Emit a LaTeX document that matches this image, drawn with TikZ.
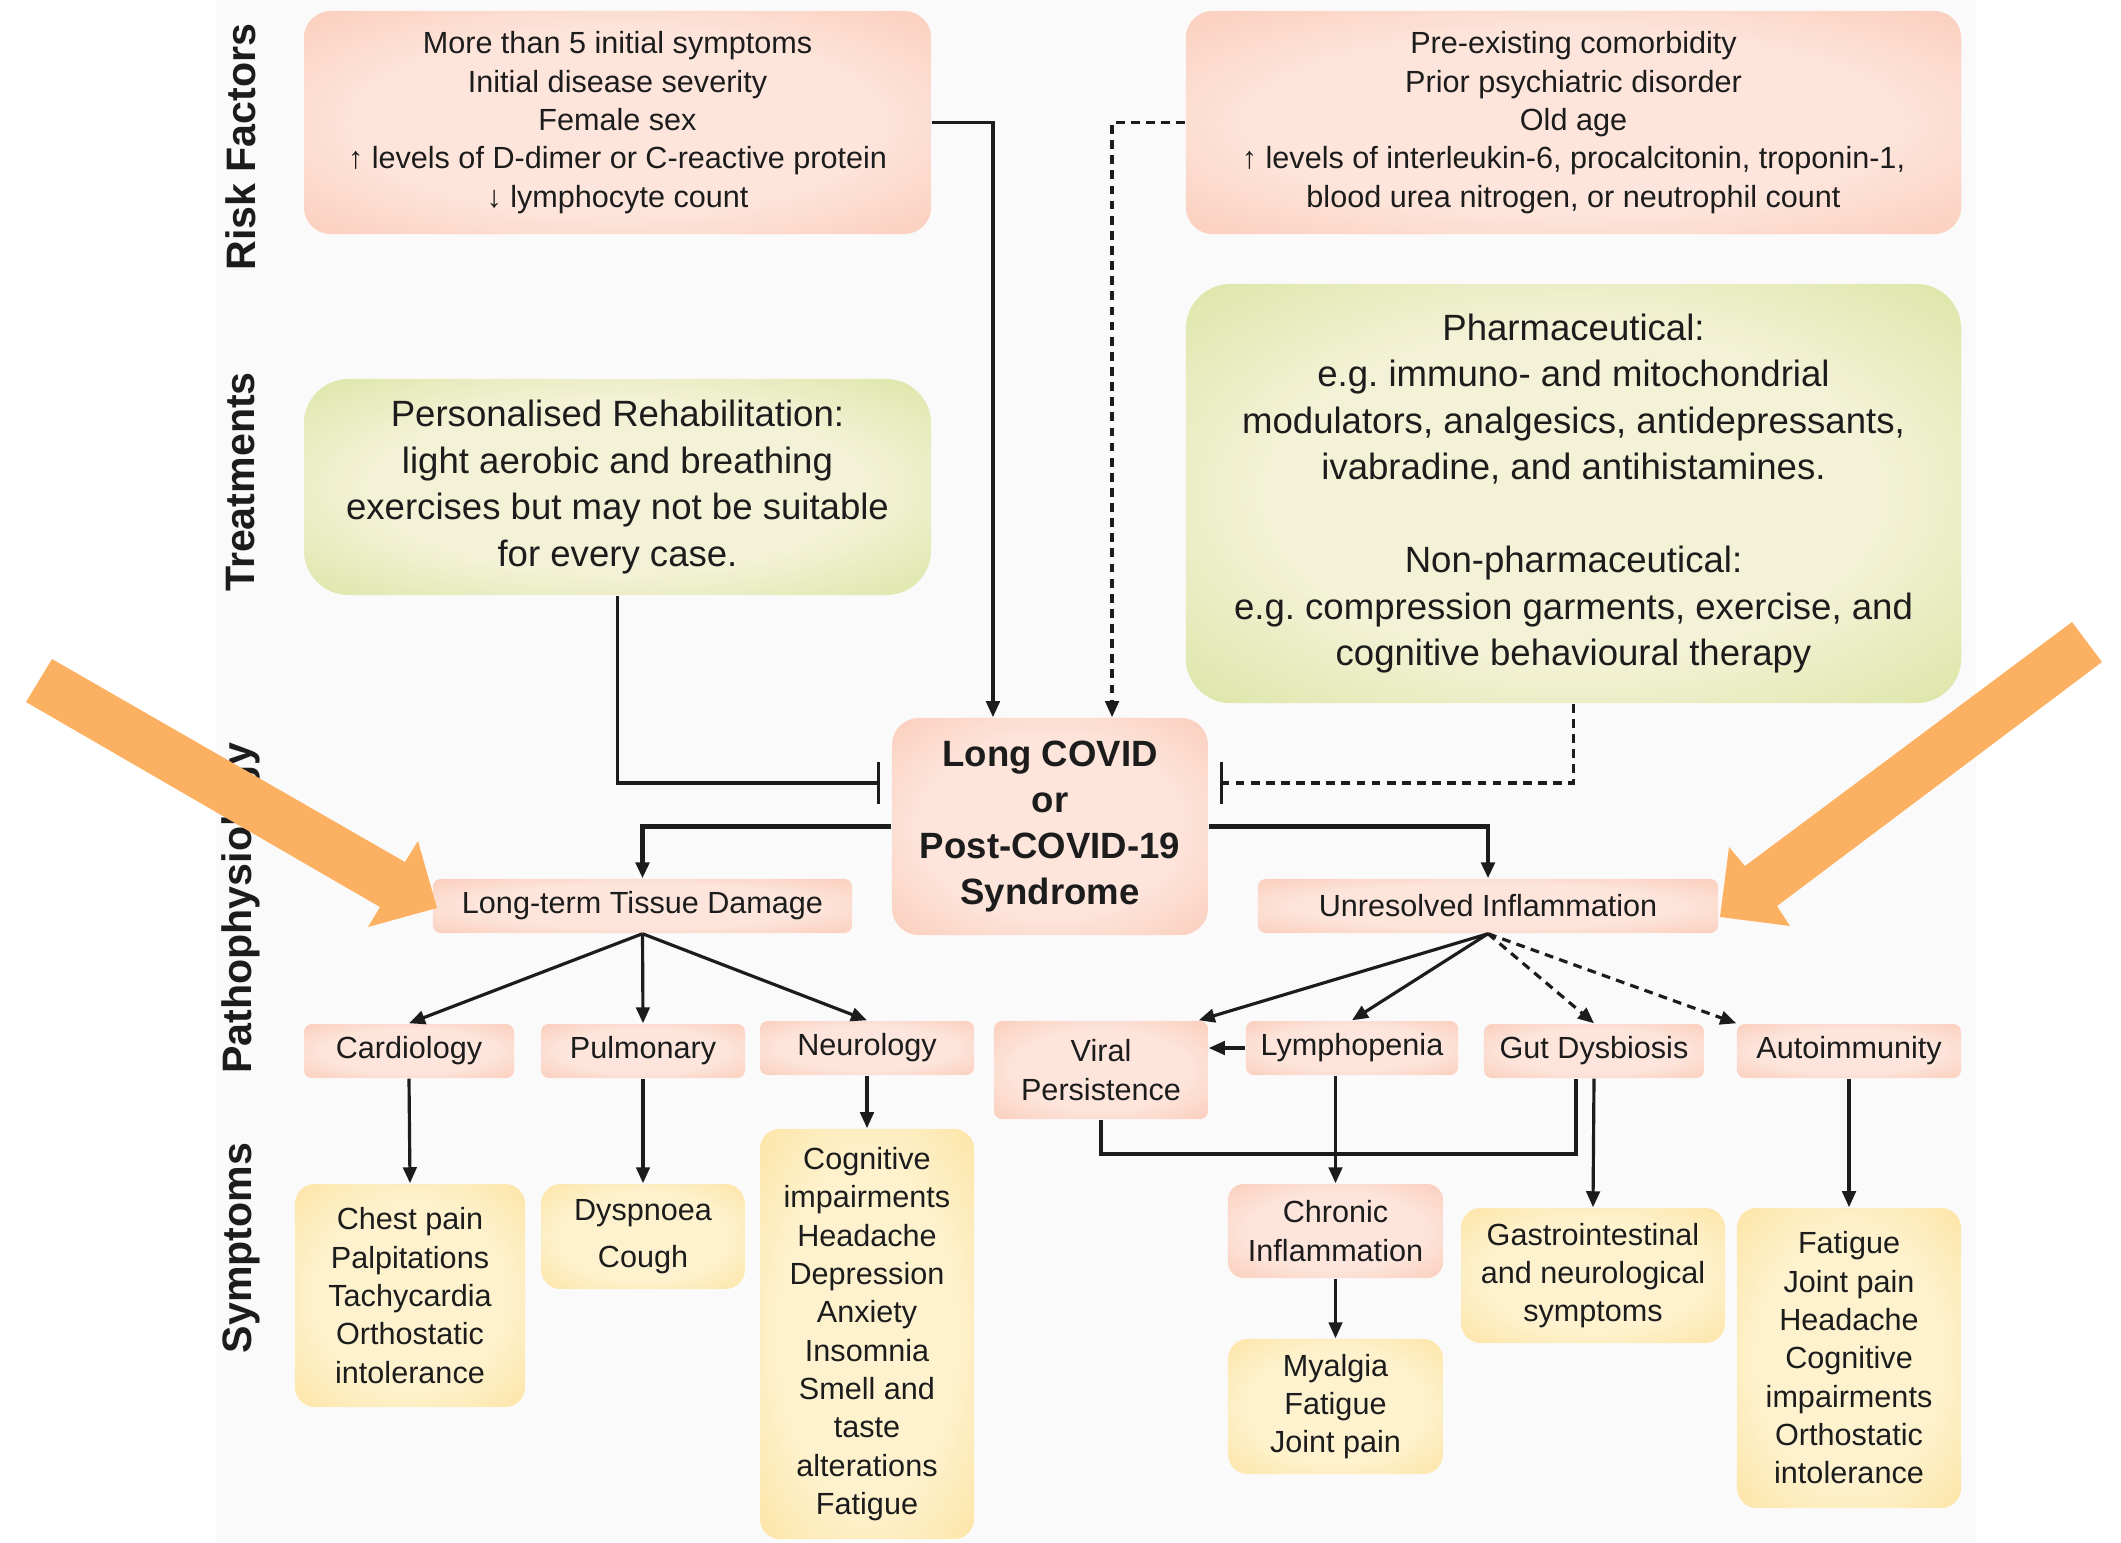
\documentclass[tikz,border=0pt]{standalone}
\usepackage{fontspec}
\setmainfont{Liberation Sans}
\usepackage{tikz}
\usetikzlibrary{arrows.meta,positioning,calc}
\definecolor{ink}{RGB}{28,28,28}
\definecolor{panel}{RGB}{251,250,251}
\definecolor{salmonIn}{RGB}{253,229,219}
\definecolor{salmonOut}{RGB}{248,188,165}
\definecolor{greenIn}{RGB}{243,242,214}
\definecolor{greenOut}{RGB}{203,219,130}
\definecolor{yellowIn}{RGB}{254,242,206}
\definecolor{yellowOut}{RGB}{251,218,136}
\definecolor{pointer}{RGB}{251,177,97}
\pgfdeclareradialshading{salmonglow}{\pgfpoint{0bp}{0bp}}{color(0bp)=(salmonIn); color(20bp)=(salmonIn); color(48bp)=(salmonOut); color(50bp)=(salmonOut)}
\pgfdeclareradialshading{greenglow}{\pgfpoint{0bp}{0bp}}{color(0bp)=(greenIn); color(20bp)=(greenIn); color(48bp)=(greenOut); color(50bp)=(greenOut)}
\pgfdeclareradialshading{yellowglow}{\pgfpoint{0bp}{0bp}}{color(0bp)=(yellowIn); color(20bp)=(yellowIn); color(48bp)=(yellowOut); color(50bp)=(yellowOut)}
\frenchspacing

\begin{document}
\begin{tikzpicture}[x=0.01cm, y=-0.01cm,
 >={Triangle[length=1.6mm,width=1.35mm]},
 txt/.style={align=center, text=ink, inner sep=0pt},
 riskbox/.style={txt, shade, shading=salmonglow, rounded corners=2.7mm, font=\fontsize{8.7}{10.9}\selectfont},
 treatbox/.style={txt, shade, shading=greenglow, rounded corners=4.5mm, font=\fontsize{10.4}{13.2}\selectfont},
 pathobox/.style={txt, shade, shading=salmonglow, rounded corners=0.8mm, minimum height=0.54cm, font=\fontsize{8.7}{10.9}\selectfont},
 symbox/.style={txt, shade, shading=yellowglow, rounded corners=2mm, font=\fontsize{8.7}{10.9}\selectfont},
 seclabel/.style={rotate=90, text=ink, font=\bfseries\fontsize{11.7}{14}\selectfont},
 link/.style={draw=ink, line width=0.9pt},
 dlink/.style={link, dash pattern=on 2.5pt off 1.8pt},
 heavy/.style={link, line width=1.3pt},
 inhib/.style={-{Bar[width=4.2mm]}},
]
 \useasboundingbox (0,0) rectangle (2121,1542);
 \fill[panel] (216,0) rectangle (1976,1542);
 % row labels
 \node[seclabel] (lblrisk) at (241,147) {Risk Factors};
 \node[seclabel] (lbltreat) at (241,482) {Treatments};
 \node[seclabel] (lblpatho) at (241,908) {Pathophysiology};
 \node[seclabel] (lblsym) at (241,1248) {Symptoms};
 % risk factors and treatments
 \node[riskbox, minimum width=6.27cm, minimum height=2.23cm] (riskL) at (617.5,122.5)
   {More than 5 initial symptoms\\Initial disease severity\\Female sex\\↑ levels of D-dimer or C-reactive protein\\↓ lymphocyte count};
 \node[riskbox, minimum width=7.75cm, minimum height=2.23cm] (riskR) at (1573.5,122.5)
   {Pre-existing comorbidity\\Prior psychiatric disorder\\Old age\\↑ levels of interleukin-6, procalcitonin, troponin-1,\\blood urea nitrogen, or neutrophil count};
 \node[treatbox, minimum width=6.27cm, minimum height=2.16cm] (treatL) at (617.5,487)
   {Personalised Rehabilitation:\\light aerobic and breathing\\exercises but may not be suitable\\for every case.};
 \node[treatbox, minimum width=7.75cm, minimum height=4.19cm] (treatR) at (1573.5,493.5)
   {Pharmaceutical:\\e.g. immuno- and mitochondrial\\modulators, analgesics, antidepressants,\\ivabradine, and antihistamines.\\[13.2pt]Non-pharmaceutical:\\e.g. compression garments, exercise, and\\cognitive behavioural therapy};
 % centre
 \node[riskbox, rounded corners=2.7mm, minimum width=3.16cm, minimum height=2.17cm,
   font=\bfseries\fontsize{10.4}{13.1}\selectfont] (core) at (1050,826.5)
   {Long COVID\\or\\Post-COVID-19\\Syndrome};
 % pathophysiology
 \node[pathobox, minimum width=4.19cm] (tissue) at (642.5,906) {Long-term Tissue Damage};
 \node[pathobox, minimum width=4.60cm] (unres) at (1488,906) {Unresolved Inflammation};
 \node[pathobox, minimum width=2.10cm] (cardio) at (409,1051) {Cardiology};
 \node[pathobox, minimum width=2.04cm] (pulm) at (643,1051) {Pulmonary};
 \node[pathobox, minimum width=2.14cm] (neuro) at (867,1048) {Neurology};
 \node[pathobox, minimum width=2.14cm, minimum height=0.98cm] (viral) at (1101,1070) {Viral\\Persistence};
 \node[pathobox, minimum width=2.12cm] (lymph) at (1352,1048) {Lymphopenia};
 \node[pathobox, minimum width=2.20cm] (gut) at (1594,1051) {Gut Dysbiosis};
 \node[pathobox, minimum width=2.24cm] (auto) at (1849,1051) {Autoimmunity};
 \node[pathobox, rounded corners=1.6mm, minimum width=2.15cm, minimum height=0.94cm] (chronic) at (1335.5,1231) {Chronic\\Inflammation};
 % symptoms
 \node[symbox, minimum width=2.30cm, minimum height=2.23cm] (chest) at (410,1295.5)
   {Chest pain\\Palpitations\\Tachycardia\\Orthostatic\\intolerance};
 \node[symbox, minimum width=2.04cm, minimum height=1.05cm] (dysp) at (643,1236.5) {Dyspnoea\\[2.5pt]Cough};
 \node[symbox, minimum width=2.14cm, minimum height=4.10cm] (cogn) at (867,1334)
   {Cognitive\\impairments\\Headache\\Depression\\Anxiety\\Insomnia\\Smell and\\taste\\alterations\\Fatigue};
 \node[symbox, minimum width=2.15cm, minimum height=1.35cm] (myal) at (1335.5,1406.5) {Myalgia\\Fatigue\\Joint pain};
 \node[symbox, minimum width=2.64cm, minimum height=1.35cm] (gastro) at (1593,1275.5)
   {Gastrointestinal\\and neurological\\symptoms};
 \node[symbox, minimum width=2.24cm, minimum height=3.00cm] (fatig) at (1849,1358)
   {Fatigue\\Joint pain\\Headache\\Cognitive\\impairments\\Orthostatic\\intolerance};
 % into the centre box
 \draw[link,->] (riskL.east) -| ([xshift=-0.57cm]core.north);
 \draw[dlink,->] (riskR.west) -| ([xshift=0.62cm]core.north);
 \draw[link,inhib] (treatL.south) |- ([xshift=-1.1mm,yshift=4.35mm]core.west);
 \draw[dlink,inhib] (treatR.south) |- ([xshift=1.1mm,yshift=4.35mm]core.east);
 % out of the centre box
 \draw[heavy,->] (core.west) -| (tissue.north);
 \draw[heavy,->] (core.east) -| (unres.north);
 \foreach \t in {cardio,pulm,neuro} \draw[link,->] (tissue.south) -- (\t.north);
 \draw[link,->] (unres.south) -- ([xshift=-1mm]viral.north east);
 \draw[link,->] (unres.south) -- (lymph.north);
 \draw[dlink,->] (unres.south) -- (gut.north);
 \draw[dlink,->] (unres.south) -- (auto.north west);
 \draw[link,->] (lymph.west) -- (lymph.west -| viral.east);
 \coordinate (gutbend) at (1576,1154);
 \draw[heavy] (viral.south) |- (gutbend) -- (gutbend |- gut.south);
 % down to the symptoms
 \draw[link,->] (cardio.south) -- (chest.north);
 \draw[link,->] (pulm.south) -- (dysp.north);
 \draw[link,->] (neuro.south) -- (cogn.north);
 \draw[link,->] (chronic.north |- lymph.south) -- (chronic.north);
 \draw[link,->] (chronic.south) -- (myal.north);
 \draw[link,->] (gut.south) -- (gastro.north);
 \draw[link,->] (auto.south) -- (fatig.north);
 % big orange pointers on top
 \fill[pointer] (52,659) -- (405,862) -- (418,841) -- (437,908) -- (368,927) -- (380,907) -- (26,702) -- cycle;
 \fill[pointer] (2072,622) -- (1745,866) -- (1729,847) -- (1720,917) -- (1790,926) -- (1777,906) -- (2102,662) -- cycle;
\end{tikzpicture}
\end{document}
